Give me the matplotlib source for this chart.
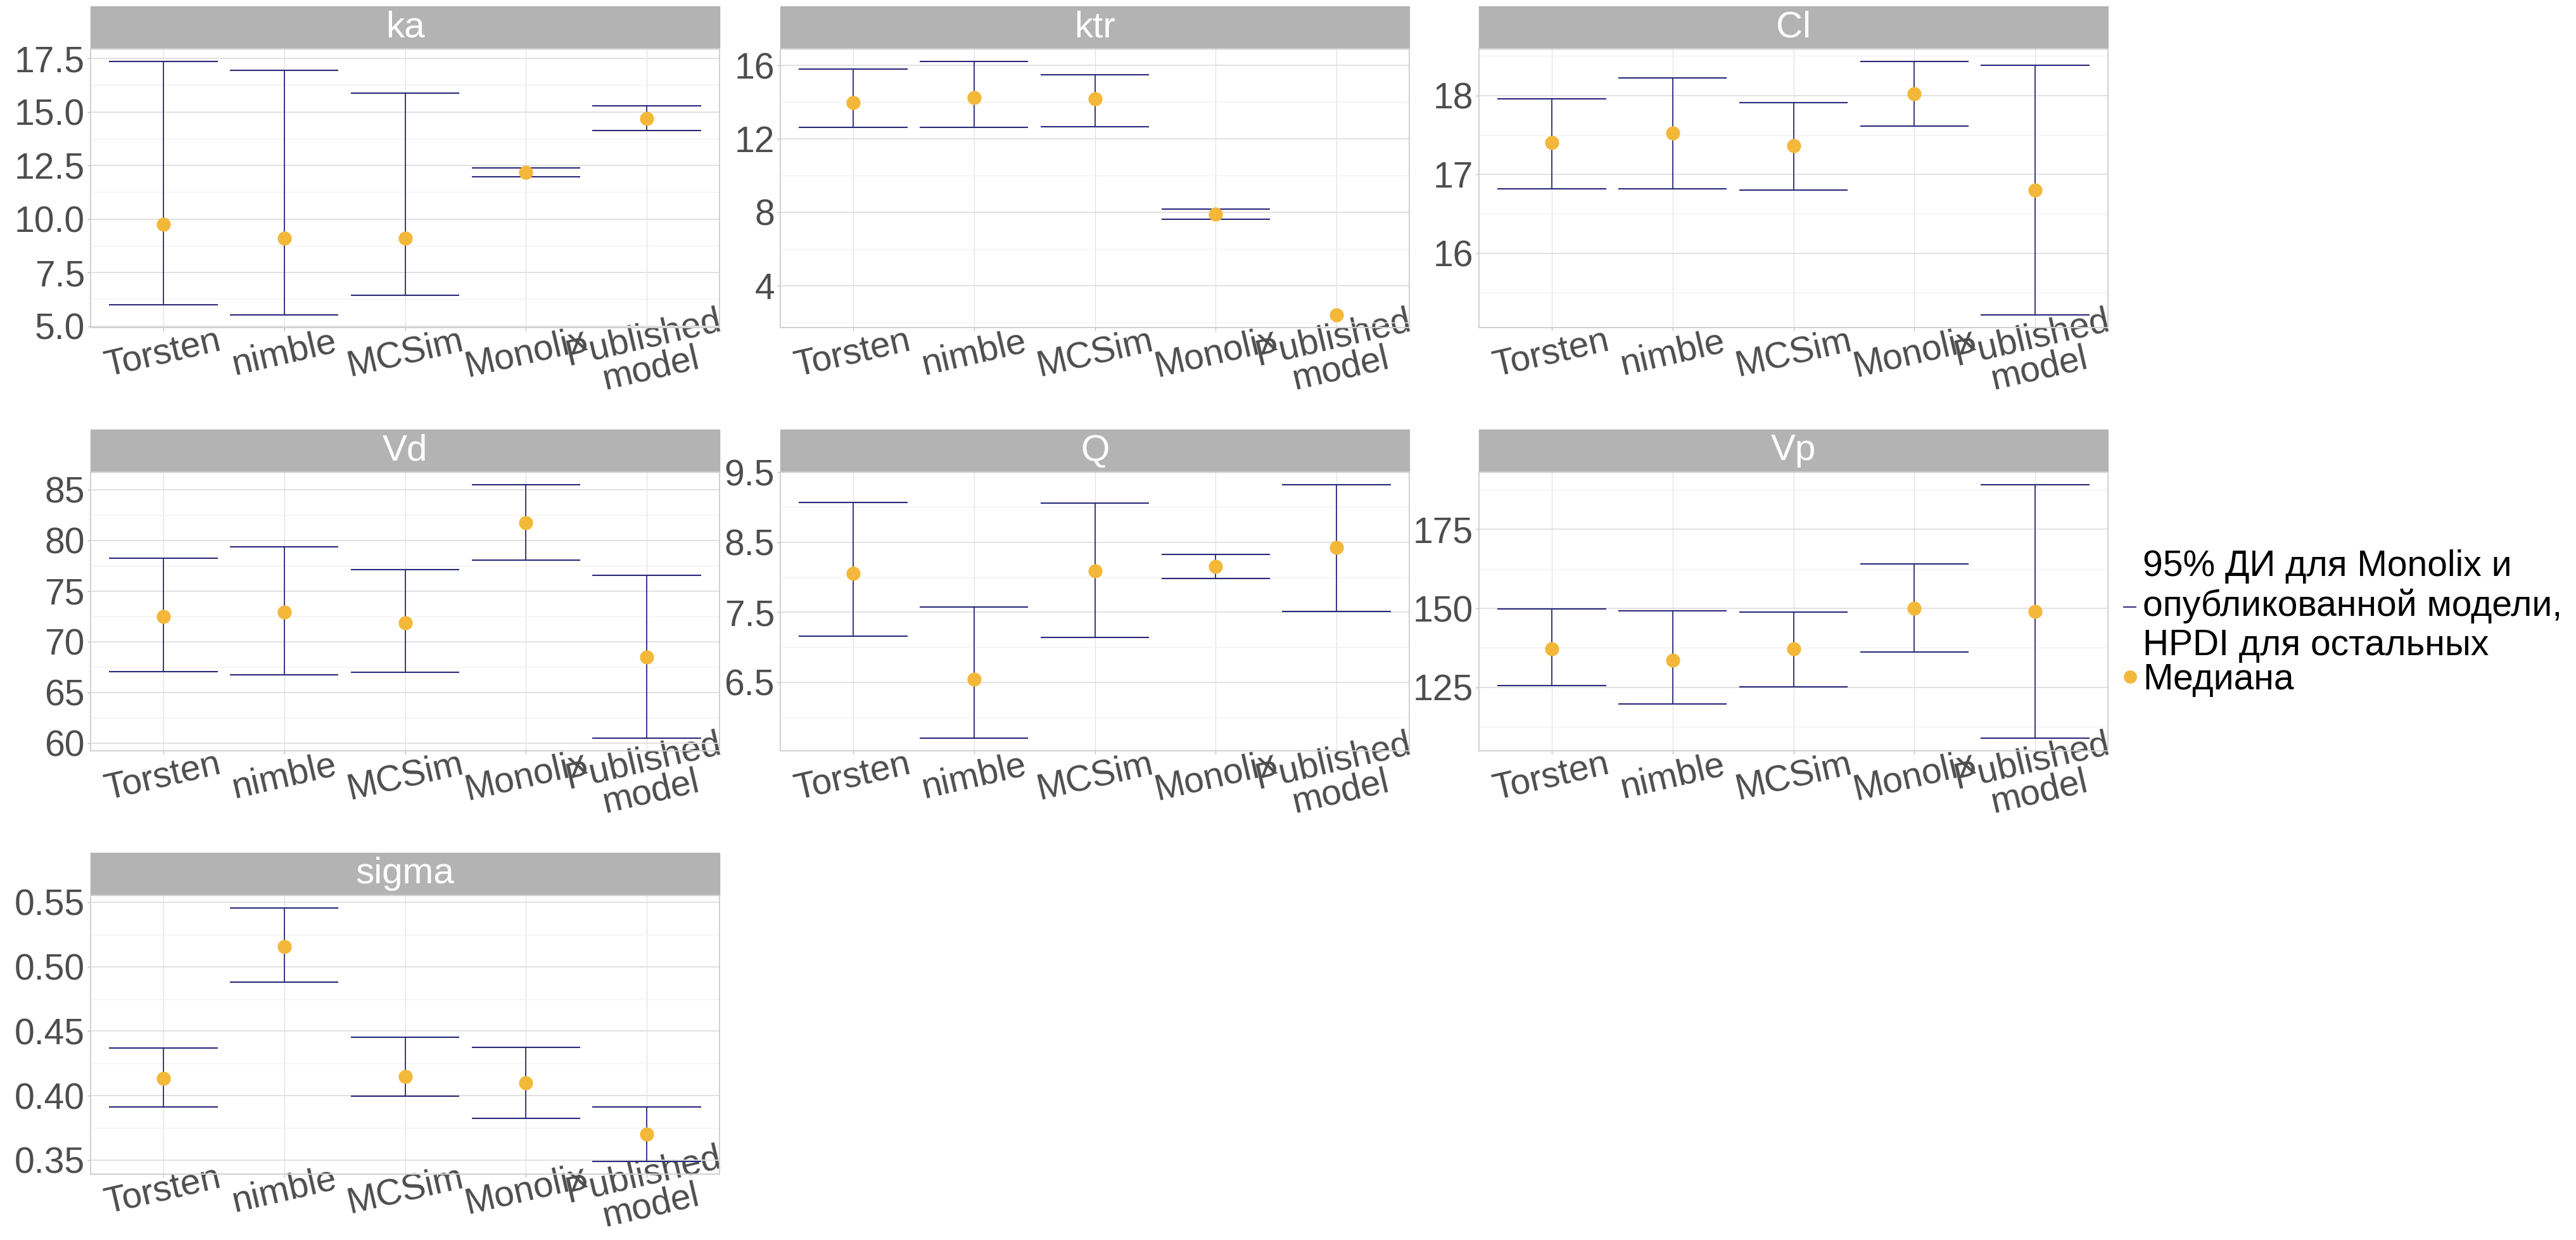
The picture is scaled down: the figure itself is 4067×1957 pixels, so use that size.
import matplotlib
matplotlib.use("Agg")
import matplotlib.pyplot as plt
from matplotlib.lines import Line2D
from matplotlib.patches import Rectangle
from matplotlib.ticker import MultipleLocator
import numpy as np

plt.rcParams['font.family'] = ['Liberation Sans', 'DejaVu Sans']

methods = ["Torsten", "nimble", "MCSim", "Monolix", "Published\nmodel"]
nan = np.nan

# medians and interval bounds
ka_med = [9.74, 9.11, 9.11, 12.18, 14.69]
ka_lo = [6.00, 5.52, 6.44, 11.96, 14.13]
ka_hi = [17.36, 16.96, 15.87, 12.39, 15.29]

ktr_med = [13.98, 14.25, 14.16, 7.89, 2.40]
ktr_lo = [12.61, 12.63, 12.66, 7.60, nan]
ktr_hi = [15.78, 16.21, 15.48, 8.17, nan]

cl_med = [17.40, 17.52, 17.36, 18.02, 16.80]
cl_lo = [16.82, 16.82, 16.80, 17.61, 15.22]
cl_hi = [17.96, 18.22, 17.91, 18.43, 18.38]

vd_med = [72.49, 72.92, 71.83, 81.75, 68.48]
vd_lo = [67.03, 66.75, 67.00, 78.02, 60.48]
vd_hi = [78.20, 79.37, 77.11, 85.48, 76.52]

q_med = [8.05, 6.54, 8.09, 8.15, 8.42]
q_lo = [7.16, 5.70, 7.14, 7.98, 7.51]
q_hi = [9.07, 7.57, 9.06, 8.32, 9.32]

vp_med = [137.1, 133.6, 137.1, 150.0, 149.0]
vp_lo = [125.5, 119.8, 125.2, 136.2, 108.9]
vp_hi = [149.8, 149.3, 148.8, 164.0, 189.1]

sigma_med = [0.4135, 0.5156, 0.415, 0.410, 0.3703]
sigma_lo = [0.3914, 0.4879, 0.3998, 0.3826, 0.349]
sigma_hi = [0.4371, 0.5455, 0.4455, 0.4375, 0.3914]

ka_ticks = [5, 7.5, 10, 12.5, 15, 17.5]
ka_labels = ["5.0", "7.5", "10.0", "12.5", "15.0", "17.5"]
ktr_ticks = [4, 8, 12, 16]
ktr_labels = ["4", "8", "12", "16"]
cl_ticks = [16, 17, 18]
cl_labels = ["16", "17", "18"]
vd_ticks = [60, 65, 70, 75, 80, 85]
vd_labels = ["60", "65", "70", "75", "80", "85"]
q_ticks = [6.5, 7.5, 8.5, 9.5]
q_labels = ["6.5", "7.5", "8.5", "9.5"]
vp_ticks = [125, 150, 175]
vp_labels = ["125", "150", "175"]
sigma_ticks = [0.35, 0.40, 0.45, 0.50, 0.55]
sigma_labels = ["0.35", "0.40", "0.45", "0.50", "0.55"]

panels = [
    ("ka", ka_med, ka_lo, ka_hi, ka_ticks, ka_labels),
    ("ktr", ktr_med, ktr_lo, ktr_hi, ktr_ticks, ktr_labels),
    ("Cl", cl_med, cl_lo, cl_hi, cl_ticks, cl_labels),
    ("Vd", vd_med, vd_lo, vd_hi, vd_ticks, vd_labels),
    ("Q", q_med, q_lo, q_hi, q_ticks, q_labels),
    ("Vp", vp_med, vp_lo, vp_hi, vp_ticks, vp_labels),
    ("sigma", sigma_med, sigma_lo, sigma_hi, sigma_ticks, sigma_labels),
]

legend_labels = ["95% ДИ для Monolix и\nопубликованной модели,\nHPDI для остальных",
                 "Медиана"]

err_col = "#29287A"
pt_col = "#F3B83A"

W, H = 4067, 1957
fig = plt.figure(figsize=(W / 100, H / 100), dpi=100)

col_left = [143, 1232, 2335]
row_top = [77, 745, 1413]
pw, ph = 993, 440
strip_h = 67 / ph

x = np.arange(1, 6)
for k, (name, med, lo, hi, ticks, labels) in enumerate(panels):
    r, c = divmod(k, 3)
    ax = fig.add_axes([col_left[c] / W, 1 - (row_top[r] + ph) / H, pw / W, ph / H])
    med = np.array(med, dtype=float)
    lo = np.array(lo, dtype=float)
    hi = np.array(hi, dtype=float)
    ok = ~np.isnan(lo)
    ax.vlines(x[ok], lo[ok], hi[ok], color=err_col, lw=1.3, zorder=2)
    ax.hlines(lo[ok], x[ok] - 0.45, x[ok] + 0.45, color=err_col, lw=1.5, zorder=2)
    ax.hlines(hi[ok], x[ok] - 0.45, x[ok] + 0.45, color=err_col, lw=1.5, zorder=2)
    ax.plot(x, med, 'o', ms=16, color=pt_col, mew=0, zorder=3)

    allv = np.concatenate([med, lo[ok], hi[ok]])
    pad = 0.05 * (allv.max() - allv.min())
    ax.set_ylim(allv.min() - pad, allv.max() + pad)
    ax.set_xlim(0.4, 5.6)

    ax.set_yticks(ticks)
    ax.set_yticklabels(labels)
    step = ticks[1] - ticks[0]
    ax.yaxis.set_minor_locator(MultipleLocator(step / 2))
    ax.set_xticks(x)
    ax.set_xticklabels(methods, rotation=13, rotation_mode='anchor',
                       ha='center', va='center', multialignment='center',
                       linespacing=0.9)

    ax.set_axisbelow(True)
    ax.grid(which='major', axis='y', color='#E2E2E2', lw=1.4)
    ax.grid(which='minor', axis='y', color='#F2F2F2', lw=1.0)
    ax.grid(which='major', axis='x', color='#E2E2E2', lw=0.9)
    for s in ax.spines.values():
        s.set_color('#D0D0D0')
        s.set_linewidth(1.4)
    ax.tick_params(which='major', length=3.5, width=1, color='#BDBDBD',
                   labelcolor='#4D4D4D')
    ax.tick_params(axis='y', labelsize=41, pad=3)
    # bottom row sits close to the figure edge, so its labels go a bit higher
    ax.tick_params(axis='x', labelsize=41, pad=26 if r < 2 else 15)
    ax.tick_params(which='minor', length=0)

    ax.add_patch(Rectangle((0, 1), 1, strip_h, transform=ax.transAxes,
                           clip_on=False, facecolor='#B3B3B3', edgecolor='#B3B3B3', lw=1))
    ax.text(0.5, 1 + strip_h / 2, name, transform=ax.transAxes, ha='center',
            va='center', color='white', fontsize=42)

handles = [Line2D([], [], color=err_col, lw=1.4),
           Line2D([], [], marker='o', ls='', ms=15, color=pt_col, mew=0)]
leg = fig.legend(handles, legend_labels, loc='center left',
                 bbox_to_anchor=(3353 / W, 0.4974), frameon=False, fontsize=41,
                 handlelength=0.34, handletextpad=0.19, labelspacing=0.0,
                 borderpad=0, borderaxespad=0)
for t in leg.get_texts():
    t.set_linespacing(1.18)

fig.savefig("out.png", dpi=100)
